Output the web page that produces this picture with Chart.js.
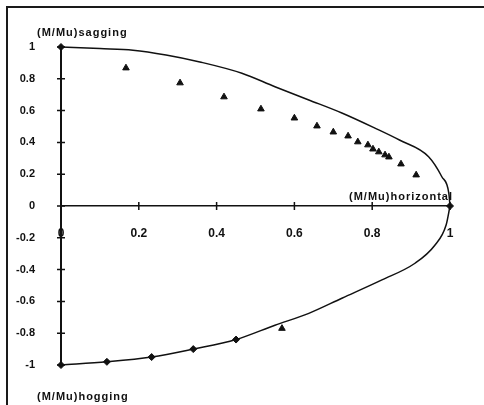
<!DOCTYPE html>
<html>
<head>
<meta charset="utf-8">
<script src="https://cdn.jsdelivr.net/npm/chart.js@4/dist/chart.umd.min.js"></script>
<style>
html, body { margin: 0; padding: 0; background: #fff; }
#wrap { position: relative; width: 484px; height: 405px; overflow: hidden; }
#frame { position: absolute; left: 6px; top: 6px; right: -4px; bottom: -4px; border-top: 2px solid #1a1a1a; border-left: 2px solid #1a1a1a; }
canvas { position: absolute; left: 0; top: 0; }
</style>
</head>
<body>
<div id="wrap"><div id="frame"></div><canvas id="chart" width="484" height="405"></canvas></div>
<script>
// Interaction curve (analytical)
const upperCurveX = [0, 0.1, 0.185, 0.27, 0.357, 0.465, 0.55, 0.637, 0.722, 0.807, 0.87, 0.945, 0.979, 0.997, 1];
const upperCurveY = [1, 0.99, 0.98, 0.95, 0.906, 0.835, 0.75, 0.667, 0.585, 0.49, 0.415, 0.31, 0.184, 0.08, 0];
const lowerCurveX = [1, 0.99, 0.96, 0.91, 0.825, 0.722, 0.637, 0.55, 0.45, 0.34, 0.233, 0.118, 0];
const lowerCurveY = [0, -0.12, -0.25, -0.36, -0.465, -0.58, -0.675, -0.75, -0.84, -0.9, -0.95, -0.98, -1];

// Markers sitting on the curve
const markX = [0, 1, 0, 0.118, 0.233, 0.34, 0.45];
const markY = [1, 0, -1, -0.98, -0.95, -0.9, -0.84];

// Test results (triangles)
const testX = [0.167, 0.306, 0.419, 0.514, 0.6, 0.658, 0.7, 0.738, 0.763, 0.789, 0.802, 0.817, 0.833, 0.843, 0.874, 0.913, 0.568];
const testY = [0.868, 0.774, 0.686, 0.61, 0.553, 0.503, 0.465, 0.44, 0.403, 0.384, 0.358, 0.34, 0.321, 0.308, 0.264, 0.195, -0.77];

// Axes
const xTicks = [0, 0.2, 0.4, 0.6, 0.8, 1];
const xTickLabels = ['0', '0.2', '0.4', '0.6', '0.8', '1'];
const yTicks = [-1, -0.8, -0.6, -0.4, -0.2, 0, 0.2, 0.4, 0.6, 0.8, 1];
const yTickLabels = ['-1', '-0.8', '-0.6', '-0.4', '-0.2', '0', '0.2', '0.4', '0.6', '0.8', '1'];
const axisLabels = ['(M/Mu)sagging', '(M/Mu)horizontal', '(M/Mu)hogging'];

const ink = '#111';
const font = { family: '"Liberation Sans", Arial, sans-serif', size: 11, weight: 'bold' };
const pts = (xs, ys) => xs.map((x, i) => ({ x: x, y: ys[i] }));

// tick marks crossing both axis lines + free text labels
const crossTicks = {
    id: 'crossTicks',
    afterDatasetsDraw(chart) {
        const c = chart.ctx, sx = chart.scales.x, sy = chart.scales.y;
        const x0 = sx.getPixelForValue(0), y0 = sy.getPixelForValue(0);
        c.save();
        c.strokeStyle = ink; c.lineWidth = 1.5;
        c.beginPath();
        xTicks.forEach(v => { const p = sx.getPixelForValue(v); c.moveTo(p, y0 - 4); c.lineTo(p, y0 + 4); });
        yTicks.forEach(v => { const p = sy.getPixelForValue(v); c.moveTo(x0 - 4, p); c.lineTo(x0 + 4, p); });
        c.stroke();
        c.fillStyle = ink;
        c.font = 'bold 11px "Liberation Sans", Arial, sans-serif';
        c.letterSpacing = '1px';
        c.textBaseline = 'alphabetic';
        c.textAlign = 'left';
        c.fillText(axisLabels[0], x0 - 24, sy.getPixelForValue(1) - 11);
        c.fillText(axisLabels[2], x0 - 24, sy.getPixelForValue(-1) + 35);
        c.textAlign = 'right';
        c.fillText(axisLabels[1], sx.getPixelForValue(1) + 3, y0 - 6);
        c.restore();
    }
};

const curveStyle = { showLine: true, borderColor: ink, borderWidth: 1.5, pointRadius: 0, cubicInterpolationMode: 'monotone', clip: false };

new Chart(document.getElementById('chart'), {
    type: 'scatter',
    data: {
        datasets: [
            Object.assign({ data: pts(upperCurveX, upperCurveY) }, curveStyle),
            Object.assign({ data: pts(lowerCurveX, lowerCurveY) }, curveStyle),
            { data: pts(markX, markY), pointStyle: 'rectRot', pointRadius: 3.5, backgroundColor: ink, borderColor: ink, borderWidth: 1, clip: false },
            { data: pts(testX, testY), pointStyle: 'triangle', pointRadius: 3.8, backgroundColor: ink, borderColor: ink, borderWidth: 1, clip: false }
        ]
    },
    options: {
        responsive: false, animation: false,
        layout: { padding: { top: 47, right: 34, bottom: 40, left: 0 } },
        plugins: { legend: { display: false }, tooltip: { enabled: false } },
        scales: {
            x: {
                type: 'linear', min: 0, max: 1, position: { y: 0 },
                afterFit(s) { s.height = 0; },
                afterBuildTicks(s) { s.ticks = xTicks.map(v => ({ value: v })); },
                grid: { display: false },
                border: { display: true, color: ink, width: 1.5 },
                ticks: { padding: 12, color: ink, font: { family: font.family, size: 12, weight: 'bold' }, maxRotation: 0, autoSkip: false, callback: (v, i) => xTickLabels[i] }
            },
            y: {
                type: 'linear', min: -1, max: 1,
                afterFit(s) { s.width = 61; },
                afterBuildTicks(s) { s.ticks = yTicks.map(v => ({ value: v })); },
                grid: { display: false },
                border: { display: true, color: ink, width: 2 },
                ticks: { padding: 18, color: ink, font: font, autoSkip: false, callback: (v, i) => yTickLabels[i] }
            }
        }
    },
    plugins: [crossTicks]
});
</script>
</body>
</html>
